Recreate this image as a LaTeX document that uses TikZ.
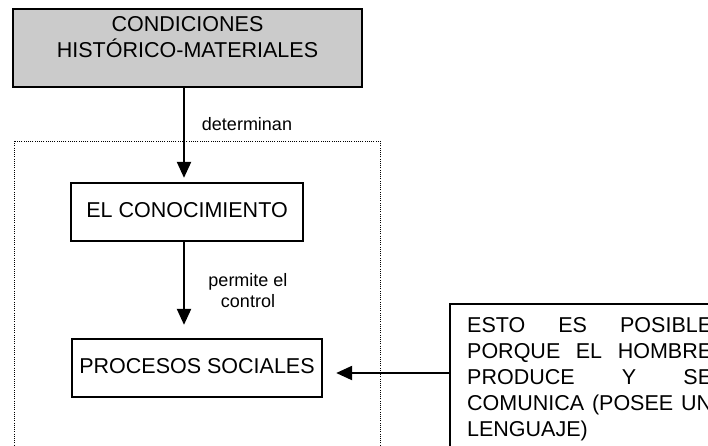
\documentclass[tikz,border=0pt]{standalone}
\usepackage{fontspec}
\setmainfont{Liberation Sans}
\usetikzlibrary{arrows.meta}
\definecolor{boxgray}{RGB}{203,203,203}
\newcommand{\mainfs}{\fontsize{21.5}{26}\selectfont}
\newcommand{\lblfs}{\fontsize{18}{21}\selectfont}
\begin{document}
\begin{tikzpicture}[x=1pt,y=-1pt,
  box/.style={draw, line width=2.3pt, inner sep=0pt, align=center, font=\mainfs},
  arr/.style={line width=2.2pt, -{Triangle[length=16pt,width=14pt]}},
  lbl/.style={font=\lblfs, align=center, inner sep=0pt},
  frame/.style={line width=0.9pt, dash pattern=on 1pt off 1.2pt}]
\path[use as bounding box, clip] (0,0) rectangle (708,445);
\coordinate (c1) at (184,0);
\coordinate (c3) at (0,373);
% dotted frame
\draw[frame] (14,141) rectangle (380,470);
% boxes
\node[box, fill=boxgray, minimum width=349pt, minimum height=78pt] (top) at (187.5,48)
  {\parbox[c][78pt][t]{349pt}{\centering\mainfs\rule{0pt}{22.4pt}CONDICIONES\\HISTÓRICO-MATERIALES}};
\node[box, minimum width=232pt, minimum height=58pt, text depth=4pt] (conoc) at (187,212) {EL CONOCIMIENTO};
\node[box, minimum width=250pt, minimum height=58pt, text depth=4pt] (proc) at (197,368) {PROCESOS SOCIALES};
\node[box, anchor=north west, inner xsep=17pt, inner ysep=0pt] (esto) at (449,303)
  {\parbox[c][150pt][t]{245pt}{\mainfs\rule{0pt}{28.7pt}%
   \makebox[245pt][s]{ESTO ES POSIBLE}\\
   \makebox[245pt][s]{PORQUE EL HOMBRE}\\
   \makebox[245pt][s]{PRODUCE Y SE}\\
   \makebox[245pt][s]{COMUNICA (POSEE UN}\\
   LENGUAJE)}};
% connectors
\draw[arr, shorten >=4pt] (top.south -| c1) -- (conoc.north -| c1);
\draw[arr, shorten >=13pt] (conoc.south -| c1) -- (proc.north -| c1);
\draw[arr, shorten >=13pt] (esto.west |- c3) -- (proc.east |- c3);
% labels
\node[lbl] (l1) at (247,124) {determinan};
\node[lbl] (l2) at (248,291) {permite el\\control};
\end{tikzpicture}
\end{document}
